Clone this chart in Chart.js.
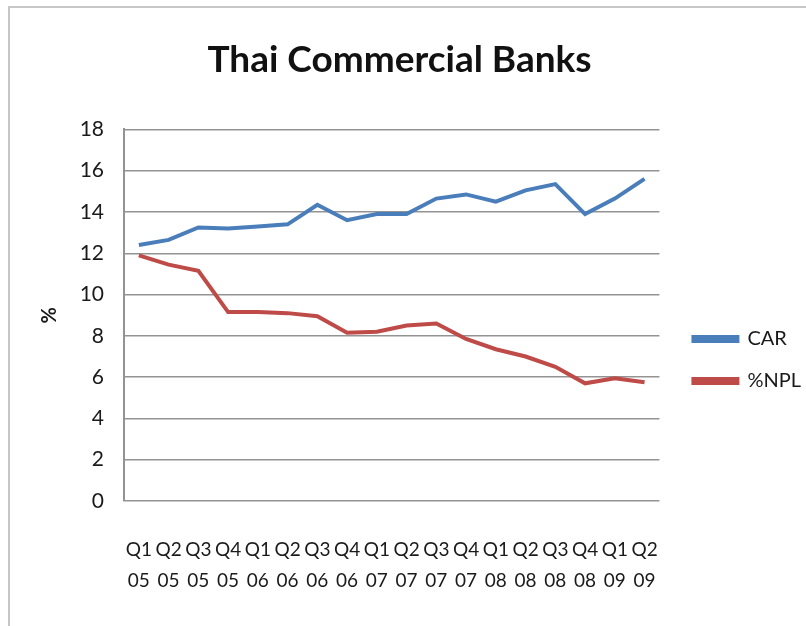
<!DOCTYPE html>
<html>
<head>
<meta charset="utf-8">
<title>Thai Commercial Banks</title>
<script src="https://cdn.jsdelivr.net/npm/chart.js@4/dist/chart.umd.min.js"></script>
<style>
    body { margin: 0; background: #ffffff; }
    #frame { position: relative; width: 806px; height: 626px; overflow: hidden; }
    #frame::before {
        content: '';
        position: absolute;
        left: 8px; top: 6px; right: -10px; bottom: -10px;
        border-top: 2px solid #c6c6c6;
        border-left: 2px solid #c6c6c6;
        pointer-events: none;
    }
</style>
</head>
<body>
<div id="frame"><canvas id="bankChart" width="806" height="626"></canvas></div>
<script>
const quarters = ['Q1', 'Q2', 'Q3', 'Q4', 'Q1', 'Q2', 'Q3', 'Q4', 'Q1', 'Q2', 'Q3', 'Q4', 'Q1', 'Q2', 'Q3', 'Q4', 'Q1', 'Q2'];
const years = ['05', '05', '05', '05', '06', '06', '06', '06', '07', '07', '07', '07', '08', '08', '08', '08', '09', '09'];
const carValues = [12.4, 12.65, 13.25, 13.2, 13.3, 13.4, 14.35, 13.6, 13.9, 13.9, 14.65, 14.85, 14.5, 15.05, 15.35, 13.9, 14.65, 15.6];
const nplValues = [11.9, 11.45, 11.15, 9.15, 9.15, 9.1, 8.95, 8.15, 8.2, 8.5, 8.6, 7.85, 7.35, 7.0, 6.5, 5.7, 5.95, 5.75];
const yTicks = [0, 2, 4, 6, 8, 10, 12, 14, 16, 18];

const fontFamily = 'Lato, "Open Sans", sans-serif';
const gridColor = '#939393';

// shifts the right-hand legend block to sit beside the middle of the plot
const legendNudge = {
    id: 'legendNudge',
    afterLayout(chart) {
        const lg = chart.legend;
        if (!lg) return;
        lg.left += 12; lg.right += 12;
        lg.top += 47; lg.bottom += 47;
    }
};

const ctx = document.getElementById('bankChart').getContext('2d');

new Chart(ctx, {
    type: 'line',
    data: {
        labels: quarters.map((q, i) => [q, years[i]]),
        datasets: [{
            label: 'CAR',
            data: carValues,
            borderColor: '#4a7ebb',
            backgroundColor: '#4a7ebb',
            borderWidth: 4,
            pointRadius: 0,
            tension: 0
        }, {
            label: '%NPL',
            data: nplValues,
            borderColor: '#be4b48',
            backgroundColor: '#be4b48',
            borderWidth: 4,
            pointRadius: 0,
            tension: 0
        }]
    },
    options: {
        responsive: false,
        animation: false,
        layout: { padding: { right: 7 } },
        scales: {
            x: {
                offset: true,
                grid: { display: false, offset: true },
                border: { display: false },
                ticks: {
                    color: '#1a1a1a',
                    autoSkip: false,
                    maxRotation: 0,
                    padding: 26,
                    font: { family: fontFamily, size: 19, lineHeight: 1.6 }
                },
                afterFit: scale => { scale.height = 125; }
            },
            y: {
                min: 0,
                max: 18,
                afterBuildTicks: scale => { scale.ticks = yTicks.map(v => ({ value: v })); },
                grid: { color: gridColor, lineWidth: 1.5, drawTicks: false },
                border: { display: true, color: gridColor, width: 2 },
                ticks: {
                    color: '#1a1a1a',
                    padding: 20,
                    font: { family: fontFamily, size: 21 }
                },
                title: {
                    display: true,
                    text: '%',
                    color: '#1a1a1a',
                    padding: { top: 38, bottom: 0 },
                    font: { family: fontFamily, size: 20, weight: 'bold' }
                },
                afterFit: scale => { scale.width = 124; }
            }
        },
        plugins: {
            title: {
                display: true,
                text: 'Thai Commercial Banks',
                color: '#111111',
                padding: { top: 38, bottom: 47 },
                font: { family: fontFamily, size: 37, weight: 'bold', lineHeight: 1.2 }
            },
            legend: {
                position: 'right',
                maxWidth: 148,
                labels: {
                    color: '#1a1a1a',
                    boxWidth: 44,
                    boxHeight: 4,
                    padding: 22,
                    font: { family: fontFamily, size: 20 }
                }
            },
            tooltip: { enabled: false }
        }
    },
    plugins: [legendNudge]
});
</script>
</body>
</html>
